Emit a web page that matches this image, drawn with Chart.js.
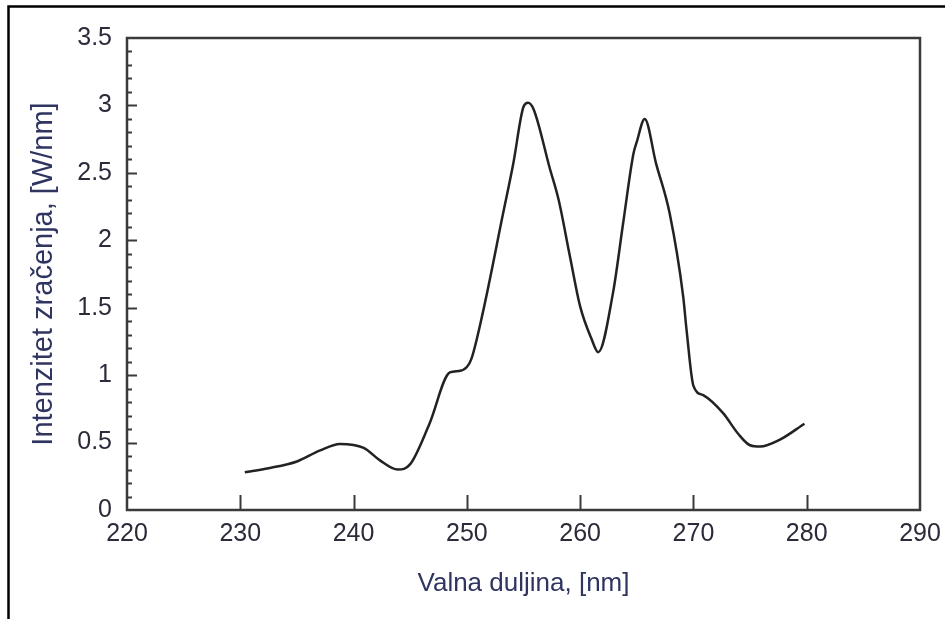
<!DOCTYPE html>
<html>
<head>
<meta charset="utf-8">
<script src="https://cdn.jsdelivr.net/npm/chart.js@4"></script>
<style>
  html, body { margin: 0; padding: 0; background: #fff; }
  #wrap { width: 945px; height: 619px; }
</style>
</head>
<body>
<div id="wrap"><canvas id="spectrum" width="945" height="619"></canvas></div>
<script>
// --- DATA ---
const wavelengths = [230.4, 232.5, 235.0, 237.0, 238.8, 240.9, 242.3, 243.9, 245.0, 246.7,
    248.5, 249.3, 250.0, 250.4, 251.4, 253.2, 254.1, 255.0, 255.4, 255.9,
    257.3, 258.1, 259.1, 260.0, 261.0, 261.6, 262.9, 263.8, 264.7, 265.0,
    265.7, 266.7, 267.9, 269.1, 269.4, 270.0, 270.9, 272.6, 274.0, 275.0,
    275.9, 277.6, 279.8];
const intensities = [0.28, 0.31, 0.36, 0.44, 0.49, 0.46, 0.37, 0.30, 0.34, 0.64,
    1.02, 1.03, 1.06, 1.12, 1.46, 2.20, 2.57, 2.99, 3.02, 2.97,
    2.54, 2.30, 1.88, 1.51, 1.27, 1.17, 1.61, 2.13, 2.64, 2.73,
    2.90, 2.57, 2.20, 1.58, 1.33, 0.92, 0.85, 0.72, 0.56, 0.48,
    0.47, 0.52, 0.64];
const xTicks = [220, 230, 240, 250, 260, 270, 280, 290];
const yTicks = [0, 0.5, 1, 1.5, 2, 2.5, 3, 3.5];

const xTitle = 'Valna duljina, [nm]';
const yTitle = 'Intenzitet zračenja, [W/nm]';

const points = wavelengths.map((w, i) => ({ x: w, y: intensities[i] }));

// outer frame of the figure + box and inward ticks of the plot
const framePlugin = {
    id: 'frame',
    beforeDraw(chart) {
        const ctx = chart.ctx;
        ctx.save();
        ctx.fillStyle = '#fff';
        ctx.fillRect(0, 0, chart.width, chart.height);
        ctx.strokeStyle = '#000';
        ctx.lineWidth = 2.5;
        ctx.beginPath();
        ctx.moveTo(8.5, chart.height);
        ctx.lineTo(8.5, 6.5);
        ctx.lineTo(chart.width, 6.5);
        ctx.stroke();
        ctx.restore();
    },
    afterDatasetsDraw(chart) {
        const ctx = chart.ctx;
        const xs = chart.scales.x;
        const ys = chart.scales.y;
        const a = chart.chartArea;
        ctx.save();
        ctx.strokeStyle = '#3a3a3a';
        ctx.lineWidth = 2;
        ctx.beginPath();
        // y ticks: major every 0.5, minor every 0.1
        for (let i = 1; i < 35; i++) {
            const py = Math.round(ys.getPixelForValue(i / 10)) + 0.5;
            const len = (i % 5 === 0) ? 10 : 5;
            ctx.moveTo(a.left, py);
            ctx.lineTo(a.left + len, py);
        }
        // x ticks
        xTicks.slice(1, -1).forEach(v => {
            const px = Math.round(xs.getPixelForValue(v)) + 0.5;
            ctx.moveTo(px, a.bottom);
            ctx.lineTo(px, a.bottom - 15);
        });
        ctx.stroke();
        ctx.lineWidth = 2.5;
        ctx.strokeRect(a.left, a.top, a.right - a.left, a.bottom - a.top);
        ctx.restore();
    }
};

const ctx = document.getElementById('spectrum').getContext('2d');
new Chart(ctx, {
    type: 'line',
    data: {
        datasets: [{
            data: points,
            borderColor: '#222',
            borderWidth: 2.5,
            pointRadius: 0,
            fill: false,
            cubicInterpolationMode: 'monotone'
        }]
    },
    options: {
        responsive: false,
        animation: false,
        events: [],
        layout: { padding: { left: 0, right: 25, top: 38, bottom: 0 } },
        plugins: { legend: { display: false }, tooltip: { enabled: false } },
        scales: {
            x: {
                type: 'linear',
                min: 220,
                max: 290,
                afterBuildTicks: (s) => { s.ticks = xTicks.map(v => ({ value: v })); },
                afterFit: (s) => { s.height = 109; s.paddingLeft = 0; s.paddingRight = 0; },
                grid: { display: false, drawTicks: false },
                border: { display: false },
                ticks: {
                    padding: 9,
                    color: '#2b2b3a',
                    maxRotation: 0,
                    font: { family: 'Liberation Sans, Arial, sans-serif', size: 25 }
                },
                title: {
                    display: true,
                    text: xTitle,
                    color: '#2f3560',
                    padding: { top: 0, bottom: 20 },
                    font: { family: 'Liberation Sans, Arial, sans-serif', size: 26 }
                }
            },
            y: {
                min: 0,
                max: 3.5,
                afterBuildTicks: (s) => { s.ticks = yTicks.map(v => ({ value: v })); },
                afterFit: (s) => { s.width = 127; s.paddingTop = 0; s.paddingBottom = 0; },
                grid: { display: false, drawTicks: false },
                border: { display: false },
                ticks: {
                    padding: 15,
                    color: '#2b2b3a',
                    callback: (v) => String(v),
                    font: { family: 'Liberation Sans, Arial, sans-serif', size: 25 }
                },
                title: {
                    display: true,
                    text: yTitle,
                    color: '#2f3560',
                    padding: { top: 27, bottom: 0 },
                    font: { family: 'Liberation Sans, Arial, sans-serif', size: 29 }
                }
            }
        }
    },
    plugins: [framePlugin]
});
</script>
</body>
</html>
